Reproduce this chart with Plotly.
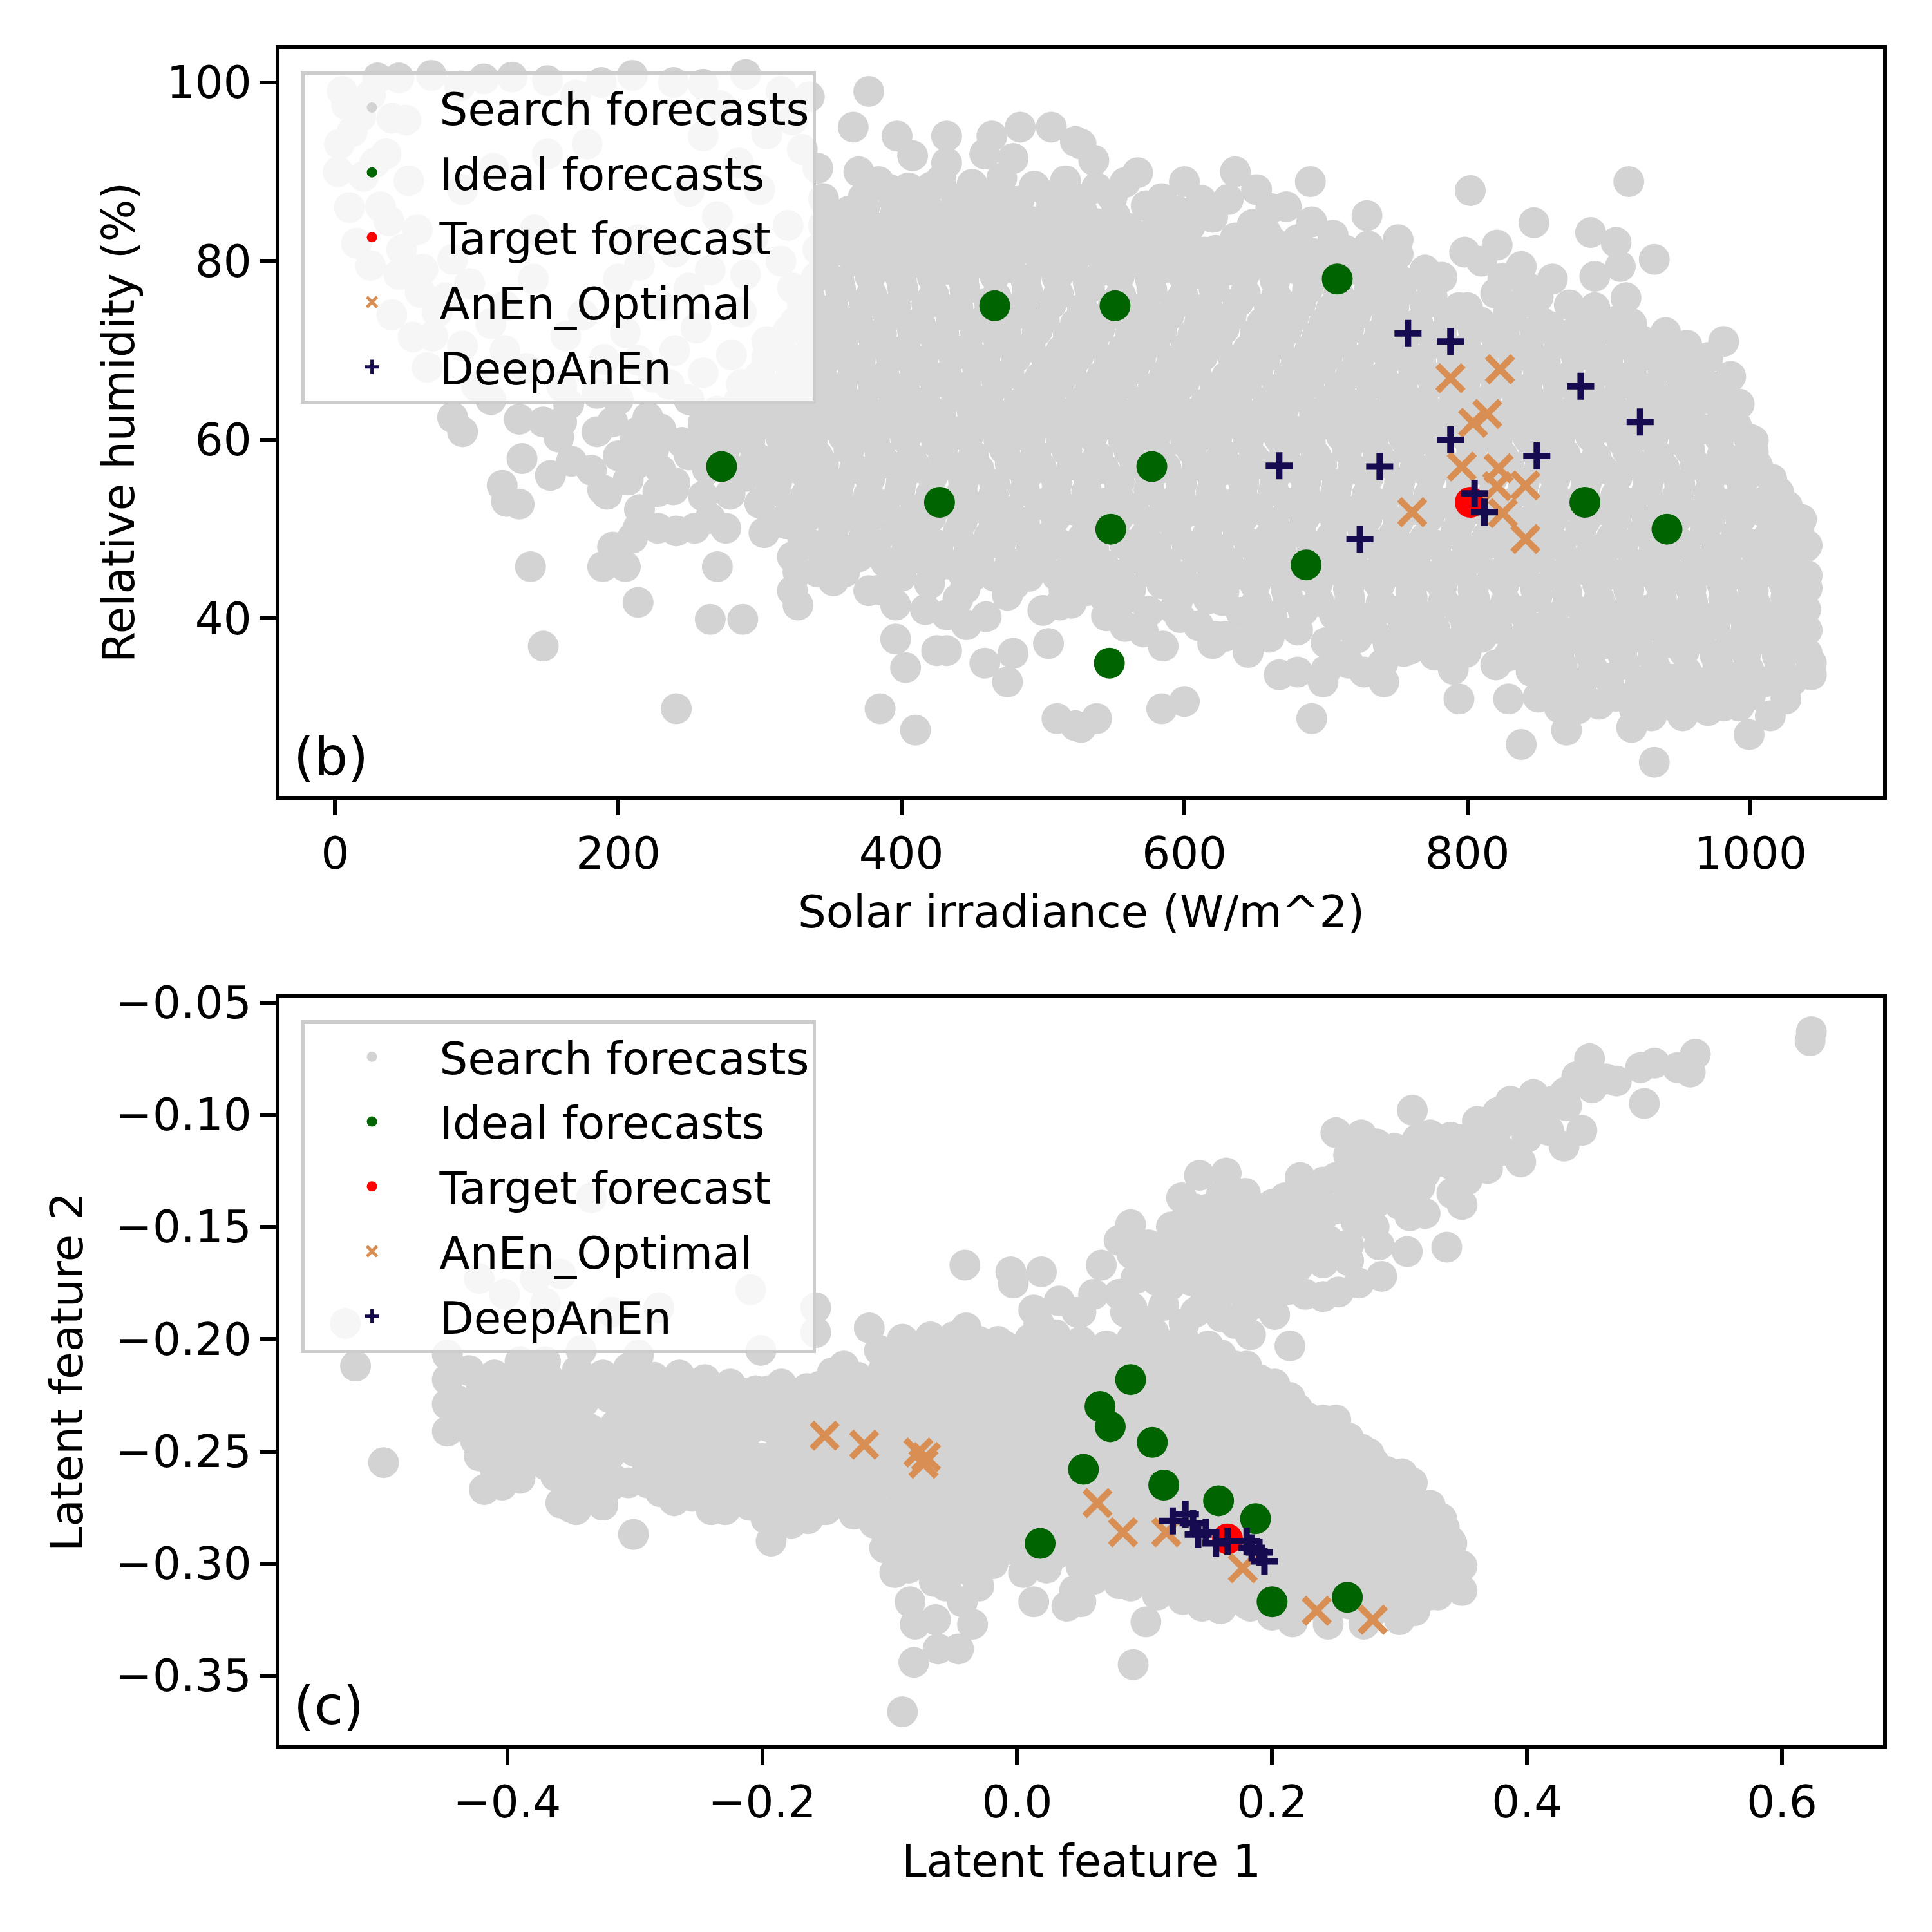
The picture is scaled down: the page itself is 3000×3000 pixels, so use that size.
import plotly.graph_objects as go

# ---- panel (b): solar irradiance vs relative humidity ----
search_b = [
    # upper left, mostly behind the legend
    (8, 97.5), (25, 98.6), (18, 96.2), (45, 100.5), (68, 100.8), (88, 99.6), (105, 100.4), (125, 100.6),
    (50, 95.8), (3, 93.1), (36, 92.0), (20, 89.5), (32, 86.1), (58, 83.5), (47, 81.3), (83, 80.2),
    (62, 79.1), (78, 75.9), (72, 74.3), (69, 71.6), (65, 68.1), (90, 88.0), (112, 90.4), (150, 92.0),
    (178, 93.1), (188, 100.0), (239, 100.0), (141, 83.5), (120, 70.0), (163, 71.6), (160, 62.0), (100, 66.0),
    (200, 78.0), (214, 68.9), (185, 65.2), (236, 66.2), (268, 63.0), (287, 66.2), (323, 66.2), (323, 77.0),
    (341, 90.4), (323, 95.8), (272, 97.4), (305, 94.2), (250, 87.8), (214, 82.4), (341, 81.3), (287, 74.3),
    (250, 77.0), (352, 71.6),
    (5, 99.0), (30, 100.5), (12, 94.5), (40, 96.0), (2, 90.0), (28, 91.0), (52, 89.0), (10, 86.0),
    (38, 84.5), (15, 82.0), (45, 78.5), (25, 79.5), (60, 76.5), (40, 74.0), (55, 71.5),
    (150, 100.2), (170, 98.6), (210, 100.8), (260, 99.8), (290, 100.9), (315, 99.0), (335, 98.4),
    (95, 77.5), (120, 75.0), (140, 78.0), (110, 73.0), (90, 70.5), (135, 68.0), (160, 66.0), (190, 69.0),
    (175, 74.0), (205, 72.0), (230, 75.0), (110, 64.5), (130, 62.3), (165, 64.0), (200, 64.5), (225, 67.0),
    (240, 70.0), (255, 72.5), (215, 79.5),
    (260, 94.0), (285, 91.0), (300, 88.0), (330, 92.5), (345, 87.0), (270, 85.0), (295, 82.5), (320, 84.0),
    (345, 84.0), (240, 81.0), (265, 79.0), (290, 78.5), (315, 80.0), (335, 74.5), (305, 71.0), (280, 69.5),
    (330, 69.0), (260, 67.5), (300, 64.0), (340, 63.5), (250, 64.5),
    # left edge below the legend
    (83, 62.5), (90, 60.9), (132, 57.9), (118, 54.9), (121, 53.1), (130, 52.8), (147, 62.0), (158, 60.3),
    (152, 56.0), (167, 57.6), (185, 60.9), (196, 62.0), (214, 60.9), (221, 62.5), (181, 56.6), (192, 53.9),
    (207, 55.5), (230, 56.6), (239, 54.4), (214, 50.1), (210, 49.0), (228, 50.1), (241, 49.8), (254, 50.1),
    (256, 58.7), (285, 60.9), (279, 53.9), (276, 50.1), (270, 45.8), (290, 56.6), (305, 57.6), (308, 54.4),
    (319, 50.6), (303, 49.6), (323, 57.6), (337, 55.5), (345, 47.9), (356, 52.8), (323, 46.9), (327, 45.2),
    (341, 45.2), (352, 44.2), (323, 43.1), (327, 41.5), (370, 46.9), (377, 43.1), (396, 41.5), (396, 37.7),
    (403, 34.5), (414, 50.1), (425, 47.4), (417, 41.0), (432, 40.4), (425, 36.4), (432, 36.4), (450, 44.7),
    (446, 39.3), (459, 35.0), (466, 44.7), (475, 42.6), (479, 36.1), (475, 32.9), (490, 44.7), (504, 37.2),
    (512, 41.5), (510, 28.8), (523, 28.0), (526, 44.7), (385, 29.9), (410, 27.5), (241, 29.9), (147, 36.9),
    (138, 45.8), (214, 41.8), (265, 39.9), (288, 39.9), (196, 48.0), (189, 45.8), (205, 45.8), (189, 54.4),
    # top of the cloud
    (377, 99.0), (366, 95.0), (397, 94.0), (432, 94.0), (464, 94.0), (484, 95.0), (506, 95.0), (459, 92.0),
    (479, 91.5), (523, 93.4), (408, 91.8), (432, 91.0), (370, 90.0), (392, 88.0), (421, 88.3), (450, 87.5),
    (476, 86.1), (512, 86.7), (363, 85.6), (403, 85.0), (432, 85.0), (381, 83.5), (410, 83.5), (446, 82.4),
    (490, 81.8), (508, 79.7), (464, 79.7), (432, 81.3), (374, 80.8), (403, 80.2),
    # right half edges
    (527, 93.1), (536, 91.3), (567, 89.9), (600, 88.9), (612, 86.8), (631, 86.9), (636, 90.0), (651, 88.0),
    (661, 85.9), (672, 86.1), (689, 88.9), (729, 85.1), (802, 87.9), (914, 88.9), (847, 84.3), (887, 83.2),
    (905, 82.1), (932, 80.2), (908, 79.4), (890, 78.3), (872, 75.1), (912, 75.9), (916, 73.0), (887, 71.1),
    (923, 71.1), (937, 68.9), (957, 68.0), (981, 71.0), (986, 67.1), (992, 64.0), (950, 64.0), (956, 60.1),
    (999, 60.1), (999, 58.7), (997, 56.0), (1010, 53.1), (1034, 50.1), (1039, 48.0), (1035, 43.9), (1039, 41.0),
    (1032, 38.8), (1043, 35.0), (1043, 33.7), (1025, 31.0), (1014, 29.1), (999, 27.0), (932, 23.9), (981, 30.2),
    (970, 29.7), (952, 29.1), (930, 29.1), (916, 27.8), (870, 27.5), (838, 25.9), (829, 31.0), (794, 31.0),
    (878, 29.9), (865, 32.1), (856, 35.0), (829, 35.8), (789, 35.8), (760, 36.6), (741, 32.9), (727, 34.0),
    (716, 35.0), (698, 32.9), (690, 28.8), (667, 33.7), (680, 34.0), (651, 39.9), (647, 38.0), (629, 38.0),
    (622, 38.0), (627, 42.0), (600, 30.7), (584, 29.9), (585, 36.9), (571, 38.5), (558, 39.1), (547, 41.0),
    (538, 28.8), (527, 27.8), (531, 43.1), (545, 42.0), (593, 41.0), (611, 78.6), (598, 78.6), (614, 81.0),
    (633, 80.2), (663, 82.1), (680, 80.2), (696, 80.2), (751, 82.4), (751, 80.8), (798, 81.0), (821, 81.8),
    (838, 79.4), (843, 77.0), (825, 78.1), (810, 80.0), (771, 78.1), (741, 77.5), (731, 77.0), (794, 74.8),
    (858, 72.7), (829, 74.3), (765, 68.9),
    # dense interior
    (384, 88.9), (405, 88.2), (428, 89.1), (450, 88.6), (471, 89.3), (494, 88.4), (516, 89.0), (538, 88.2), (558, 88.8),
    (373, 87.1), (395, 86.8), (417, 87.3), (439, 86.9), (461, 87.2), (483, 86.7), (505, 87.3), (527, 86.9),
    (549, 87.2), (584, 87.0),
    (352, 85.2), (374, 86.0), (396, 85.4), (418, 86.1), (440, 85.3), (462, 85.9), (484, 85.2), (506, 86.0),
    (528, 85.5), (551, 85.1), (573, 86.2), (595, 85.6), (620, 84.9),
    (362, 84.2), (384, 83.7), (406, 84.3), (428, 83.9), (450, 84.2), (472, 83.8), (494, 84.4), (516, 83.9),
    (538, 84.2), (560, 83.7), (582, 84.3), (604, 83.9), (648, 84.1), (690, 84.4),
    (350, 82.1), (371, 82.9), (393, 82.3), (415, 82.8), (437, 82.0), (459, 82.7), (481, 82.2), (503, 82.9),
    (525, 82.4), (547, 82.0), (569, 82.8), (591, 82.3), (636, 82.6), (658, 83.1), (680, 82.4), (705, 82.9), (730, 81.7),
    (358, 81.2), (380, 80.7), (402, 81.3), (424, 80.9), (446, 81.2), (468, 80.8), (490, 81.4), (512, 80.9),
    (534, 81.2), (556, 80.7), (578, 81.3), (600, 80.9), (622, 81.2), (644, 80.8), (666, 81.3), (690, 80.9),
    (714, 81.2), (738, 80.6),
    (345, 79.2), (367, 80.0), (389, 79.4), (411, 79.9), (433, 79.1), (455, 79.8), (477, 79.3), (499, 80.0),
    (521, 79.5), (543, 79.0), (565, 79.9), (587, 79.3), (609, 80.1), (631, 79.0), (653, 79.6), (676, 79.2),
    (698, 79.9), (720, 79.1), (745, 79.7), (770, 79.0),
    (340, 78.2), (356, 77.7), (378, 78.3), (400, 77.9), (422, 78.2), (444, 77.8), (466, 78.4), (488, 77.9),
    (510, 78.2), (532, 77.7), (554, 78.3), (576, 77.9), (620, 77.8), (642, 78.4), (664, 77.9), (686, 78.2),
    (708, 77.7), (730, 78.3), (752, 77.9), (782, 78.2), (860, 78.0),
    (335, 76.1), (357, 76.9), (379, 76.3), (401, 77.0), (423, 76.2), (445, 76.8), (467, 76.0), (489, 76.7),
    (511, 76.3), (533, 77.0), (555, 76.2), (577, 76.8), (599, 76.1), (621, 76.9), (643, 76.4), (665, 76.0),
    (687, 76.8), (709, 76.3), (731, 75.8), (753, 76.6), (775, 76.1), (820, 76.4), (850, 76.0),
    (330, 75.2), (352, 74.7), (374, 75.3), (396, 74.9), (418, 75.2), (440, 74.8), (462, 75.4), (484, 74.9),
    (506, 75.2), (528, 74.7), (550, 75.3), (572, 74.9), (594, 75.2), (616, 74.8), (638, 75.4), (660, 74.9),
    (682, 75.2), (704, 74.7), (726, 75.3), (748, 74.9), (770, 75.2), (800, 74.8), (838, 75.3), (890, 74.8),
    (325, 73.2), (347, 73.9), (369, 73.3), (391, 73.8), (413, 73.1), (435, 73.7), (457, 73.2), (479, 73.9),
    (501, 73.4), (523, 73.0), (545, 73.8), (567, 73.2), (589, 73.9), (611, 73.3), (633, 73.8), (655, 73.1),
    (677, 73.7), (699, 73.2), (721, 73.9), (743, 73.4), (765, 73.0), (787, 73.8), (809, 73.2), (831, 73.6),
    (853, 73.1), (880, 73.9), (905, 73.3),
    (320, 72.2), (342, 71.7), (364, 72.3), (386, 71.9), (408, 72.2), (430, 71.8), (452, 72.4), (474, 71.9),
    (496, 72.2), (518, 71.7), (540, 72.3), (562, 71.9), (584, 72.2), (606, 71.8), (628, 72.4), (650, 71.9),
    (672, 72.2), (694, 71.7), (716, 72.3), (738, 71.9), (760, 72.2), (782, 71.8), (804, 72.4), (826, 71.9),
    (848, 72.2), (870, 71.7), (895, 72.3), (940, 72.0),
    (315, 70.2), (337, 70.9), (359, 70.3), (381, 70.8), (403, 70.1), (425, 70.7), (447, 70.2), (469, 70.9),
    (491, 70.4), (513, 70.0), (535, 70.8), (557, 70.2), (579, 70.9), (601, 70.3), (623, 70.8), (645, 70.1),
    (667, 70.7), (689, 70.2), (711, 70.9), (733, 70.4), (755, 70.0), (777, 70.8), (799, 70.2), (821, 70.9),
    (843, 70.3), (865, 70.8), (887, 70.1), (909, 70.7), (931, 70.2), (955, 70.6),
    (305, 69.2), (327, 68.7), (349, 69.3), (371, 68.9), (393, 69.2), (415, 68.8), (437, 69.4), (459, 68.9),
    (481, 69.2), (503, 68.7), (525, 69.3), (547, 68.9), (569, 69.2), (591, 68.8), (613, 69.4), (635, 68.9),
    (657, 69.2), (679, 68.7), (701, 69.3), (723, 68.9), (745, 69.2), (767, 68.8), (789, 69.4), (811, 68.9),
    (833, 69.2), (855, 68.7), (877, 69.3), (899, 68.9), (921, 69.2), (945, 68.8), (970, 69.2),
    (300, 67.2), (322, 67.9), (344, 67.3), (366, 67.8), (388, 67.1), (410, 67.7), (432, 67.2), (454, 67.9),
    (476, 67.4), (498, 67.0), (520, 67.8), (542, 67.2), (564, 67.9), (586, 67.3), (608, 67.8), (630, 67.1),
    (652, 67.7), (674, 67.2), (696, 67.9), (718, 67.4), (740, 67.0), (762, 67.8), (784, 67.2), (806, 67.9),
    (828, 67.3), (850, 67.8), (872, 67.1), (894, 67.7), (916, 67.2), (938, 67.9), (962, 67.4),
    (292, 66.2), (314, 65.7), (336, 66.3), (358, 65.9), (380, 66.2), (402, 65.8), (424, 66.4), (446, 65.9),
    (468, 66.2), (490, 65.7), (512, 66.3), (534, 65.9), (556, 66.2), (578, 65.8), (600, 66.4), (622, 65.9),
    (644, 66.2), (666, 65.7), (688, 66.3), (710, 65.9), (732, 66.2), (754, 65.8), (776, 66.4), (798, 65.9),
    (820, 66.2), (842, 65.7), (864, 66.3), (886, 65.9), (908, 66.2), (930, 65.8), (952, 66.4), (975, 65.9),
    (285, 64.2), (307, 64.9), (329, 64.3), (351, 64.8), (373, 64.1), (395, 64.7), (417, 64.2), (439, 64.9),
    (461, 64.4), (483, 64.0), (505, 64.8), (527, 64.2), (549, 64.9), (571, 64.3), (593, 64.8), (615, 64.1),
    (637, 64.7), (659, 64.2), (681, 64.9), (703, 64.4), (725, 64.0), (747, 64.8), (769, 64.2), (791, 64.9),
    (813, 64.3), (835, 64.8), (857, 64.1), (879, 64.7), (901, 64.2), (923, 64.9), (945, 64.4), (968, 64.6),
    (270, 63.2), (296, 62.7), (318, 63.3), (340, 62.9), (362, 63.2), (384, 62.8), (406, 63.4), (428, 62.9),
    (450, 63.2), (472, 62.7), (494, 63.3), (516, 62.9), (538, 63.2), (560, 62.8), (582, 63.4), (604, 62.9),
    (626, 63.2), (648, 62.7), (670, 63.3), (692, 62.9), (714, 63.2), (736, 62.8), (758, 63.4), (780, 62.9),
    (802, 63.2), (824, 62.7), (846, 63.3), (868, 62.9), (890, 63.2), (912, 62.8), (934, 63.4), (956, 62.9),
    (980, 63.2),
    (230, 61.2), (260, 61.9), (282, 61.3), (304, 61.8), (326, 61.1), (348, 61.7), (370, 61.2), (392, 61.9),
    (414, 61.4), (436, 61.0), (458, 61.8), (480, 61.2), (502, 61.9), (524, 61.3), (546, 61.8), (568, 61.1),
    (590, 61.7), (612, 61.2), (634, 61.9), (656, 61.4), (678, 61.0), (700, 61.8), (722, 61.2), (744, 61.9),
    (766, 61.3), (788, 61.8), (810, 61.1), (832, 61.7), (854, 61.2), (876, 61.9), (898, 61.4), (920, 61.0),
    (942, 61.8), (965, 61.2), (990, 61.6),
    (212, 60.2), (245, 59.7), (271, 60.3), (293, 59.9), (315, 60.2), (337, 59.8), (359, 60.4), (381, 59.9),
    (403, 60.2), (425, 59.7), (447, 60.3), (469, 59.9), (491, 60.2), (513, 59.8), (535, 60.4), (557, 59.9),
    (579, 60.2), (601, 59.7), (623, 60.3), (645, 59.9), (667, 60.2), (689, 59.8), (711, 60.4), (733, 59.9),
    (755, 60.2), (777, 59.7), (799, 60.3), (821, 59.9), (843, 60.2), (865, 59.8), (887, 60.4), (909, 59.9),
    (931, 60.2), (953, 59.7), (978, 60.3), (1002, 59.9),
    (200, 58.2), (225, 58.9), (250, 58.3), (275, 58.8), (297, 58.1), (319, 58.7), (341, 58.2), (363, 58.9),
    (385, 58.4), (407, 58.0), (429, 58.8), (451, 58.2), (473, 58.9), (495, 58.3), (517, 58.8), (539, 58.1),
    (561, 58.7), (583, 58.2), (605, 58.9), (627, 58.4), (649, 58.0), (671, 58.8), (693, 58.2), (715, 58.9),
    (737, 58.3), (759, 58.8), (781, 58.1), (803, 58.7), (825, 58.2), (847, 58.9), (869, 58.4), (891, 58.0),
    (913, 58.8), (935, 58.2), (957, 58.9), (980, 58.3), (1002, 58.6),
    (212, 57.2), (263, 56.7), (301, 57.3), (323, 56.9), (345, 57.2), (367, 56.8), (389, 57.4), (411, 56.9),
    (433, 57.2), (455, 56.7), (477, 57.3), (499, 56.9), (521, 57.2), (543, 56.8), (565, 57.4), (587, 56.9),
    (609, 57.2), (631, 56.7), (653, 57.3), (675, 56.9), (697, 57.2), (719, 56.8), (741, 57.4), (763, 56.9),
    (785, 57.2), (807, 56.7), (829, 57.3), (851, 56.9), (873, 57.2), (895, 56.8), (917, 57.4), (939, 56.9),
    (961, 57.2), (983, 56.7), (1005, 57.1),
    (240, 55.2), (290, 55.9), (312, 55.3), (334, 55.8), (356, 55.1), (378, 55.7), (400, 55.2), (422, 55.9),
    (444, 55.4), (466, 55.0), (488, 55.8), (510, 55.2), (532, 55.9), (554, 55.3), (576, 55.8), (598, 55.1),
    (620, 55.7), (642, 55.2), (664, 55.9), (686, 55.4), (708, 55.0), (730, 55.8), (752, 55.2), (774, 55.9),
    (796, 55.3), (818, 55.8), (840, 55.1), (862, 55.7), (884, 55.2), (906, 55.9), (928, 55.4), (950, 55.0),
    (972, 55.8), (994, 55.2), (1015, 55.6),
    (228, 54.2), (260, 53.7), (311, 54.3), (333, 53.9), (355, 54.2), (377, 53.8), (399, 54.4), (421, 53.9),
    (443, 54.2), (465, 53.7), (487, 54.3), (509, 53.9), (531, 54.2), (553, 53.8), (575, 54.4), (597, 53.9),
    (619, 54.2), (641, 53.7), (663, 54.3), (685, 53.9), (707, 54.2), (729, 53.8), (751, 54.4), (773, 53.9),
    (795, 54.2), (817, 53.7), (839, 54.3), (861, 53.9), (883, 54.2), (905, 53.8), (927, 54.4), (949, 53.9),
    (971, 54.2), (993, 53.7), (1020, 54.1),
    (215, 52.2), (300, 52.9), (322, 52.3), (344, 52.8), (366, 52.1), (388, 52.7), (410, 52.2), (432, 52.9),
    (454, 52.4), (476, 52.0), (498, 52.8), (520, 52.2), (542, 52.9), (564, 52.3), (586, 52.8), (608, 52.1),
    (630, 52.7), (652, 52.2), (674, 52.9), (696, 52.4), (718, 52.0), (740, 52.8), (762, 52.2), (784, 52.9),
    (806, 52.3), (828, 52.8), (850, 52.1), (872, 52.7), (894, 52.2), (916, 52.9), (938, 52.4), (960, 52.0),
    (982, 52.8), (1004, 52.2), (1026, 52.6),
    (265, 51.2), (311, 50.7), (333, 51.3), (355, 50.9), (377, 51.2), (399, 50.8), (421, 51.4), (443, 50.9),
    (465, 51.2), (487, 50.7), (509, 51.3), (531, 50.9), (553, 51.2), (575, 50.8), (597, 51.4), (619, 50.9),
    (641, 51.2), (663, 50.7), (685, 51.3), (707, 50.9), (729, 51.2), (751, 50.8), (773, 51.4), (795, 50.9),
    (817, 51.2), (839, 50.7), (861, 51.3), (883, 50.9), (905, 51.2), (927, 50.8), (949, 51.4), (971, 50.9),
    (993, 51.2), (1015, 50.7), (1036, 51.1),
    (330, 49.2), (352, 49.9), (374, 49.3), (396, 49.8), (418, 49.1), (440, 49.7), (462, 49.2), (484, 49.9),
    (506, 49.4), (528, 49.0), (550, 49.8), (572, 49.2), (594, 49.9), (616, 49.3), (638, 49.8), (660, 49.1),
    (682, 49.7), (704, 49.2), (726, 49.9), (748, 49.4), (770, 49.0), (792, 49.8), (814, 49.2), (836, 49.9),
    (858, 49.3), (880, 49.8), (902, 49.1), (924, 49.7), (946, 49.2), (968, 49.9), (990, 49.4), (1012, 49.0),
    (1034, 49.6),
    (338, 48.2), (360, 47.7), (382, 48.3), (404, 47.9), (426, 48.2), (448, 47.8), (470, 48.4), (492, 47.9),
    (514, 48.2), (536, 47.7), (558, 48.3), (580, 47.9), (602, 48.2), (624, 47.8), (646, 48.4), (668, 47.9),
    (690, 48.2), (712, 47.7), (734, 48.3), (756, 47.9), (778, 48.2), (800, 47.8), (822, 48.4), (844, 47.9),
    (866, 48.2), (888, 47.7), (910, 48.3), (932, 47.9), (954, 48.2), (976, 47.8), (998, 48.4), (1020, 47.9),
    (1040, 48.2),
    (345, 46.2), (367, 46.9), (389, 46.3), (411, 46.8), (433, 46.1), (455, 46.7), (477, 46.2), (499, 46.9),
    (521, 46.4), (543, 46.0), (565, 46.8), (587, 46.2), (609, 46.9), (631, 46.3), (653, 46.8), (675, 46.1),
    (697, 46.7), (719, 46.2), (741, 46.9), (763, 46.4), (785, 46.0), (807, 46.8), (829, 46.2), (851, 46.9),
    (873, 46.3), (895, 46.8), (917, 46.1), (939, 46.7), (961, 46.2), (983, 46.9), (1005, 46.4), (1027, 46.6),
    (360, 45.2), (400, 44.7), (422, 45.3), (444, 44.9), (488, 45.2), (510, 44.8), (532, 45.4), (554, 44.9),
    (576, 45.2), (598, 44.7), (620, 45.3), (642, 44.9), (664, 45.2), (686, 44.8), (708, 45.4), (730, 44.9),
    (752, 45.2), (774, 44.7), (796, 45.3), (818, 44.9), (840, 45.2), (862, 44.8), (884, 45.4), (906, 44.9),
    (928, 45.2), (950, 44.7), (972, 45.3), (994, 44.9), (1016, 45.2), (1040, 44.8),
    (385, 43.2), (420, 43.9), (445, 43.3), (480, 43.8), (515, 43.1), (540, 43.7), (562, 43.2), (584, 43.9),
    (606, 43.4), (628, 43.0), (650, 43.8), (672, 43.2), (694, 43.9), (716, 43.3), (738, 43.8), (760, 43.1),
    (782, 43.7), (804, 43.2), (826, 43.9), (848, 43.4), (870, 43.0), (892, 43.8), (914, 43.2), (936, 43.9),
    (958, 43.3), (980, 43.8), (1002, 43.1), (1024, 43.7), (1040, 43.4),
    (440, 42.2), (520, 41.7), (560, 42.3), (595, 41.9), (617, 42.2), (651, 41.8), (673, 42.4), (695, 41.9),
    (717, 42.2), (739, 41.7), (761, 42.3), (783, 41.9), (805, 42.2), (827, 41.8), (849, 42.4), (871, 41.9),
    (893, 42.2), (915, 41.7), (937, 42.3), (959, 41.9), (981, 42.2), (1003, 41.8), (1025, 42.3),
    (460, 40.2), (500, 40.9), (545, 40.3), (575, 40.8), (597, 40.1), (640, 40.7), (662, 40.2), (684, 40.9),
    (706, 40.4), (728, 40.0), (750, 40.8), (772, 40.2), (794, 40.9), (816, 40.3), (838, 40.8), (860, 40.1),
    (882, 40.7), (904, 40.2), (926, 40.9), (948, 40.4), (970, 40.0), (992, 40.8), (1014, 40.2), (1036, 40.6),
    (610, 39.2), (680, 38.7), (711, 39.3), (733, 38.9), (755, 39.2), (777, 38.8), (799, 39.4), (821, 38.9),
    (843, 39.2), (865, 38.7), (887, 39.3), (909, 38.9), (931, 39.2), (953, 38.8), (975, 39.4), (997, 38.9),
    (1019, 39.2), (1040, 38.7),
    (620, 37.2), (660, 37.9), (700, 37.3), (722, 37.8), (744, 37.1), (766, 37.7), (788, 37.2), (810, 37.9),
    (832, 37.4), (854, 37.0), (876, 37.8), (898, 37.2), (920, 37.9), (942, 37.3), (964, 37.8), (986, 37.1),
    (1008, 37.7), (1030, 37.2),
    (645, 36.2), (711, 35.7), (755, 36.3), (777, 35.9), (799, 36.2), (843, 35.8), (865, 36.4), (887, 35.9),
    (909, 36.2), (931, 35.7), (953, 36.3), (975, 35.9), (997, 36.2), (1019, 35.8), (1040, 36.1),
    (700, 34.2), (740, 34.9), (790, 34.3), (820, 34.8), (845, 34.1), (867, 34.7), (889, 34.2), (911, 34.9),
    (933, 34.4), (955, 34.0), (977, 34.8), (999, 34.2), (1021, 34.6),
    (860, 33.2), (880, 32.7), (900, 33.3), (922, 32.9), (944, 33.2), (966, 32.8), (988, 33.4), (1010, 32.9),
    (1030, 33.1),
    (850, 31.2), (880, 31.9), (905, 31.3), (930, 31.8), (955, 31.1), (980, 31.7), (1000, 31.4),
    (865, 30.0), (893, 30.4), (918, 29.8), (943, 30.3), (968, 29.9), (992, 30.2),
]
ideal_b_x = [273, 427, 466, 551, 577, 548, 547, 708, 686, 883, 941]
ideal_b_y = [57, 53, 75, 75, 57, 50, 35, 78, 46, 53, 50]
target_b_x = [802]
target_b_y = [53]
anen_b_x = [788, 823, 814, 804, 796, 822, 841, 821, 825, 761, 841]
anen_b_y = [66.9, 67.9, 62.9, 61.9, 57.0, 56.8, 54.9, 54.8, 51.8, 51.9, 48.9]
deep_b_x = [758, 788, 880, 922, 788, 849, 738, 805, 812, 724, 667]
deep_b_y = [71.9, 71.0, 66.0, 62.0, 60.0, 58.2, 57.0, 54.0, 51.9, 48.9, 57.1]

# ---- panel (c): latent features ----
search_c = [
    # left arm edges
    (-0.519, -0.212), (-0.497, -0.255), (-0.447, -0.218), (-0.447, -0.229), (-0.447, -0.241), (-0.424, -0.235),
    (-0.422, -0.252), (-0.418, -0.267), (-0.404, -0.265), (-0.402, -0.259), (-0.386, -0.243), (-0.402, -0.230),
    (-0.386, -0.222), (-0.410, -0.218), (-0.370, -0.210), (-0.346, -0.220), (-0.362, -0.235), (-0.358, -0.252),
    (-0.362, -0.261), (-0.358, -0.273), (-0.346, -0.276), (-0.338, -0.261), (-0.318, -0.265), (-0.305, -0.264),
    (-0.322, -0.244), (-0.338, -0.240), (-0.301, -0.287), (-0.306, -0.229), (-0.289, -0.222), (-0.273, -0.231),
    (-0.261, -0.240), (-0.285, -0.252), (-0.265, -0.248), (-0.269, -0.272), (-0.249, -0.261), (-0.237, -0.267),
    (-0.229, -0.276), (-0.233, -0.252), (-0.245, -0.218), (-0.229, -0.225), (-0.209, -0.240), (-0.209, -0.252),
    (-0.197, -0.261), (-0.197, -0.280), (-0.193, -0.290), (-0.177, -0.282), (-0.164, -0.280), (-0.152, -0.276),
    (-0.177, -0.272), (-0.177, -0.225), (-0.185, -0.229), (-0.160, -0.233), (-0.136, -0.212), (-0.136, -0.220),
    (-0.116, -0.195), (-0.108, -0.205), (-0.100, -0.212), (-0.128, -0.278), (-0.112, -0.282), (-0.104, -0.293),
    # behind the legend
    (-0.422, -0.173), (-0.402, -0.180), (-0.378, -0.173), (-0.358, -0.171), (-0.334, -0.137), (-0.370, -0.184),
    (-0.318, -0.188), (-0.281, -0.186), (-0.209, -0.178), (-0.158, -0.186), (-0.158, -0.197), (-0.201, -0.205),
    (-0.527, -0.193), (-0.447, -0.207), (-0.342, -0.205), (-0.390, -0.210), (-0.297, -0.207),
    # middle top and lower lobe
    (-0.088, -0.201), (-0.068, -0.199), (-0.040, -0.195), (-0.015, -0.201), (-0.041, -0.167), (-0.005, -0.170),
    (-0.003, -0.175), (0.019, -0.170), (0.013, -0.187), (0.017, -0.193), (0.033, -0.183), (0.047, -0.188),
    (0.000, -0.205), (0.025, -0.205), (-0.096, -0.304), (-0.084, -0.317), (-0.080, -0.327), (-0.081, -0.344),
    (-0.090, -0.366), (-0.062, -0.338), (-0.046, -0.338), (-0.035, -0.327), (-0.043, -0.317), (-0.064, -0.325),
    (-0.056, -0.310), (-0.076, -0.300), (-0.035, -0.304), (-0.019, -0.300), (-0.011, -0.293), (0.005, -0.304),
    (0.023, -0.302), (0.013, -0.317), (0.039, -0.319), (0.045, -0.312), (0.000, -0.289),
    # upper arm
    (0.623, -0.063), (0.622, -0.067), (0.532, -0.073), (0.528, -0.081), (0.518, -0.079), (0.489, -0.079),
    (0.492, -0.095), (0.449, -0.075), (0.439, -0.083), (0.451, -0.088), (0.462, -0.084), (0.431, -0.096),
    (0.443, -0.107), (0.417, -0.107), (0.429, -0.114), (0.405, -0.091), (0.411, -0.098), (0.387, -0.094),
    (0.377, -0.099), (0.361, -0.103), (0.385, -0.101), (0.395, -0.121), (0.373, -0.112), (0.357, -0.120),
    (0.369, -0.124), (0.353, -0.129), (0.341, -0.135), (0.349, -0.140), (0.337, -0.159), (0.347, -0.111),
    (0.329, -0.121), (0.324, -0.109), (0.310, -0.098), (0.314, -0.111), (0.296, -0.115), (0.282, -0.113),
    (0.270, -0.109), (0.250, -0.108), (0.260, -0.118), (0.266, -0.124), (0.284, -0.124), (0.300, -0.128),
    (0.316, -0.132), (0.320, -0.144), (0.308, -0.145), (0.282, -0.139), (0.292, -0.136), (0.274, -0.145),
    (0.222, -0.128), (0.220, -0.143), (0.240, -0.142), (0.266, -0.148), (0.306, -0.161), (0.286, -0.172),
    (0.268, -0.175), (0.252, -0.179), (0.240, -0.181), (0.226, -0.180), (0.212, -0.178), (0.200, -0.173),
    (0.204, -0.160), (0.224, -0.157), (0.244, -0.156), (0.260, -0.158), (0.284, -0.158), (0.202, -0.189),
    (0.214, -0.203), (0.183, -0.198), (0.171, -0.193), (0.191, -0.184), (0.183, -0.178), (0.167, -0.168),
    (0.163, -0.158), (0.181, -0.152), (0.195, -0.150), (0.179, -0.135), (0.183, -0.140), (0.164, -0.126),
    (0.143, -0.127), (0.129, -0.137), (0.155, -0.141), (0.151, -0.150), (0.121, -0.150), (0.089, -0.149),
    (0.083, -0.156), (0.103, -0.158), (0.121, -0.166), (0.139, -0.163), (0.066, -0.167), (0.093, -0.173),
    (0.137, -0.174), (0.159, -0.180), (0.147, -0.184), (0.060, -0.180), (0.085, -0.188), (0.115, -0.185),
    (0.131, -0.193), (0.107, -0.197), (0.050, -0.188),
    (0.080, -0.156), (0.100, -0.168), (0.080, -0.180), (0.100, -0.192), (0.120, -0.160), (0.120, -0.176),
    (0.140, -0.142), (0.140, -0.154), (0.140, -0.166), (0.140, -0.188), (0.160, -0.136), (0.160, -0.148),
    (0.160, -0.160), (0.160, -0.172), (0.160, -0.190), (0.180, -0.145), (0.180, -0.157), (0.180, -0.169),
    (0.180, -0.186), (0.200, -0.140), (0.200, -0.152), (0.200, -0.164), (0.220, -0.135), (0.220, -0.147),
    (0.220, -0.168), (0.240, -0.130), (0.240, -0.145), (0.240, -0.166), (0.260, -0.125), (0.260, -0.137),
    (0.260, -0.165), (0.280, -0.120), (0.280, -0.131), (0.280, -0.150), (0.300, -0.118), (0.300, -0.140),
    (0.320, -0.115), (0.320, -0.126), (0.340, -0.110), (0.340, -0.122), (0.360, -0.110), (0.380, -0.104),
    (0.380, -0.116), (0.400, -0.098), (0.400, -0.110), (0.420, -0.094),
    (0.090, -0.162), (0.110, -0.174), (0.090, -0.186), (0.130, -0.148), (0.130, -0.172), (0.150, -0.142),
    (0.150, -0.154), (0.150, -0.166), (0.150, -0.178), (0.170, -0.140), (0.170, -0.152), (0.170, -0.164),
    (0.170, -0.176), (0.190, -0.146), (0.190, -0.158), (0.190, -0.170), (0.210, -0.137), (0.210, -0.149),
    (0.210, -0.161), (0.230, -0.132), (0.230, -0.152), (0.250, -0.128), (0.250, -0.142), (0.270, -0.122),
    (0.270, -0.134), (0.290, -0.120), (0.290, -0.128), (0.310, -0.121), (0.330, -0.116), (0.350, -0.112),
    (0.370, -0.108), (0.390, -0.100), (0.410, -0.103), (0.430, -0.090), (0.470, -0.085), (0.500, -0.077),
    # lower blob edges
    (0.171, -0.212), (0.187, -0.218), (0.202, -0.220), (0.214, -0.226), (0.228, -0.235), (0.250, -0.236),
    (0.260, -0.244), (0.276, -0.251), (0.290, -0.259), (0.302, -0.260), (0.310, -0.264), (0.324, -0.274),
    (0.333, -0.280), (0.341, -0.291), (0.349, -0.301), (0.349, -0.312), (0.324, -0.314), (0.312, -0.321),
    (0.300, -0.325), (0.272, -0.327), (0.244, -0.327), (0.216, -0.326), (0.200, -0.323), (0.183, -0.319),
    (0.159, -0.320), (0.145, -0.319), (0.123, -0.312), (0.101, -0.326), (0.091, -0.345), (0.089, -0.310),
    (0.071, -0.303), (0.050, -0.317),
    # left arm interior
    (-0.430, -0.214), (-0.410, -0.216), (-0.390, -0.213), (-0.368, -0.217), (-0.345, -0.214), (-0.325, -0.216),
    (-0.305, -0.213), (-0.285, -0.217), (-0.265, -0.216), (-0.245, -0.222), (-0.225, -0.220), (-0.205, -0.223),
    (-0.185, -0.220), (-0.165, -0.222), (-0.145, -0.215), (-0.125, -0.217), (-0.105, -0.214),
    (-0.420, -0.221), (-0.400, -0.222), (-0.380, -0.220), (-0.355, -0.222), (-0.335, -0.221), (-0.315, -0.220),
    (-0.295, -0.222), (-0.275, -0.221), (-0.255, -0.223), (-0.215, -0.224), (-0.195, -0.223), (-0.175, -0.224),
    (-0.155, -0.221), (-0.135, -0.222), (-0.115, -0.221),
    (-0.440, -0.227), (-0.420, -0.228), (-0.400, -0.226), (-0.380, -0.229), (-0.360, -0.226), (-0.340, -0.228),
    (-0.320, -0.226), (-0.300, -0.229), (-0.280, -0.227), (-0.260, -0.228), (-0.240, -0.226), (-0.220, -0.229),
    (-0.200, -0.227), (-0.180, -0.228), (-0.160, -0.226), (-0.140, -0.229), (-0.120, -0.227),
    (-0.430, -0.233), (-0.410, -0.234), (-0.390, -0.232), (-0.370, -0.235), (-0.350, -0.233), (-0.310, -0.232),
    (-0.290, -0.235), (-0.270, -0.233), (-0.250, -0.234), (-0.230, -0.232), (-0.210, -0.235), (-0.190, -0.233),
    (-0.170, -0.234), (-0.150, -0.232), (-0.130, -0.235), (-0.110, -0.233),
    (-0.435, -0.239), (-0.415, -0.240), (-0.395, -0.238), (-0.375, -0.241), (-0.355, -0.239), (-0.335, -0.240),
    (-0.315, -0.238), (-0.295, -0.241), (-0.275, -0.239), (-0.255, -0.240), (-0.235, -0.238), (-0.215, -0.241),
    (-0.195, -0.239), (-0.175, -0.240), (-0.155, -0.238), (-0.135, -0.241), (-0.115, -0.239),
    (-0.425, -0.245), (-0.405, -0.246), (-0.385, -0.244), (-0.365, -0.247), (-0.345, -0.245), (-0.325, -0.246),
    (-0.305, -0.244), (-0.285, -0.247), (-0.265, -0.245), (-0.245, -0.246), (-0.225, -0.244), (-0.185, -0.245),
    (-0.165, -0.246), (-0.145, -0.244), (-0.125, -0.247), (-0.105, -0.245),
    (-0.420, -0.251), (-0.400, -0.252), (-0.380, -0.250), (-0.360, -0.253), (-0.340, -0.251), (-0.320, -0.252),
    (-0.300, -0.250), (-0.280, -0.253), (-0.260, -0.251), (-0.240, -0.252), (-0.220, -0.250), (-0.200, -0.253),
    (-0.180, -0.251), (-0.160, -0.252), (-0.140, -0.250), (-0.120, -0.253), (-0.100, -0.251),
    (-0.410, -0.257), (-0.390, -0.258), (-0.370, -0.256), (-0.350, -0.259), (-0.330, -0.257), (-0.290, -0.256),
    (-0.270, -0.259), (-0.250, -0.257), (-0.230, -0.258), (-0.210, -0.256), (-0.190, -0.259), (-0.170, -0.257),
    (-0.150, -0.258), (-0.130, -0.256), (-0.110, -0.259),
    (-0.410, -0.263), (-0.390, -0.262), (-0.355, -0.264), (-0.335, -0.262), (-0.315, -0.263), (-0.290, -0.264),
    (-0.265, -0.262), (-0.245, -0.263), (-0.225, -0.264), (-0.205, -0.262), (-0.185, -0.263), (-0.165, -0.264),
    (-0.145, -0.262), (-0.125, -0.263), (-0.105, -0.264),
    (-0.345, -0.269), (-0.325, -0.270), (-0.280, -0.268), (-0.255, -0.270), (-0.235, -0.269), (-0.215, -0.268),
    (-0.195, -0.270), (-0.175, -0.269), (-0.155, -0.268), (-0.135, -0.270), (-0.115, -0.269),
    (-0.350, -0.275), (-0.325, -0.274), (-0.240, -0.276), (-0.210, -0.274), (-0.190, -0.276), (-0.170, -0.274),
    (-0.150, -0.276), (-0.130, -0.274), (-0.110, -0.276),
    # central blob interior
    (-0.090, -0.200), (-0.070, -0.202), (-0.050, -0.199), (-0.030, -0.201), (-0.010, -0.203), (0.010, -0.200),
    (0.030, -0.198), (0.050, -0.201), (0.070, -0.203), (0.090, -0.200), (0.110, -0.202), (0.130, -0.199),
    (0.150, -0.203),
    (-0.080, -0.206), (-0.060, -0.208), (-0.040, -0.205), (-0.020, -0.207), (0.000, -0.209), (0.020, -0.206),
    (0.040, -0.204), (0.060, -0.207), (0.080, -0.209), (0.100, -0.206), (0.120, -0.208), (0.140, -0.205),
    (0.160, -0.207),
    (-0.100, -0.212), (-0.080, -0.214), (-0.060, -0.211), (-0.040, -0.213), (-0.020, -0.210), (0.000, -0.214),
    (0.020, -0.212), (0.040, -0.211), (0.060, -0.214), (0.080, -0.212), (0.100, -0.210), (0.120, -0.213),
    (0.140, -0.211), (0.160, -0.214), (0.180, -0.212),
    (-0.090, -0.218), (-0.070, -0.220), (-0.050, -0.217), (-0.030, -0.219), (-0.010, -0.216), (0.010, -0.220),
    (0.030, -0.218), (0.050, -0.217), (0.070, -0.220), (0.090, -0.218), (0.110, -0.216), (0.130, -0.219),
    (0.150, -0.217), (0.170, -0.220), (0.190, -0.218),
    (-0.110, -0.224), (-0.090, -0.226), (-0.070, -0.223), (-0.050, -0.225), (-0.030, -0.222), (-0.010, -0.226),
    (0.010, -0.224), (0.030, -0.223), (0.050, -0.226), (0.070, -0.224), (0.090, -0.222), (0.110, -0.225),
    (0.130, -0.223), (0.150, -0.226), (0.170, -0.224), (0.190, -0.223), (0.210, -0.226),
    (-0.100, -0.230), (-0.080, -0.232), (-0.060, -0.229), (-0.040, -0.231), (-0.020, -0.228), (0.000, -0.232),
    (0.020, -0.230), (0.040, -0.229), (0.060, -0.232), (0.080, -0.230), (0.100, -0.228), (0.120, -0.231),
    (0.140, -0.229), (0.160, -0.232), (0.180, -0.230), (0.200, -0.229), (0.220, -0.231),
    (-0.100, -0.236), (-0.080, -0.238), (-0.060, -0.235), (-0.040, -0.237), (-0.020, -0.234), (0.000, -0.238),
    (0.020, -0.236), (0.040, -0.235), (0.060, -0.238), (0.080, -0.236), (0.100, -0.234), (0.120, -0.237),
    (0.140, -0.235), (0.160, -0.238), (0.180, -0.236), (0.200, -0.235), (0.220, -0.238), (0.240, -0.236),
    (-0.090, -0.242), (-0.070, -0.244), (-0.050, -0.241), (-0.030, -0.243), (-0.010, -0.240), (0.010, -0.244),
    (0.030, -0.242), (0.050, -0.241), (0.070, -0.244), (0.090, -0.242), (0.110, -0.240), (0.130, -0.243),
    (0.150, -0.241), (0.170, -0.244), (0.190, -0.242), (0.210, -0.241), (0.230, -0.244), (0.250, -0.242),
    (-0.090, -0.248), (-0.070, -0.250), (-0.050, -0.247), (-0.030, -0.249), (-0.010, -0.246), (0.010, -0.250),
    (0.030, -0.248), (0.050, -0.247), (0.070, -0.250), (0.090, -0.248), (0.110, -0.246), (0.130, -0.249),
    (0.150, -0.247), (0.170, -0.250), (0.190, -0.248), (0.210, -0.247), (0.230, -0.250), (0.250, -0.248),
    (0.270, -0.249),
    (-0.100, -0.254), (-0.080, -0.256), (-0.060, -0.253), (-0.040, -0.255), (-0.020, -0.252), (0.000, -0.256),
    (0.020, -0.254), (0.040, -0.253), (0.060, -0.256), (0.080, -0.254), (0.100, -0.252), (0.120, -0.255),
    (0.140, -0.253), (0.160, -0.256), (0.180, -0.254), (0.200, -0.253), (0.220, -0.256), (0.240, -0.254),
    (0.260, -0.252), (0.280, -0.255),
    (-0.100, -0.260), (-0.080, -0.262), (-0.060, -0.259), (-0.040, -0.261), (-0.020, -0.258), (0.000, -0.262),
    (0.020, -0.260), (0.040, -0.259), (0.060, -0.262), (0.080, -0.260), (0.100, -0.258), (0.120, -0.261),
    (0.140, -0.259), (0.160, -0.262), (0.180, -0.260), (0.200, -0.259), (0.220, -0.262), (0.240, -0.260),
    (0.260, -0.258), (0.280, -0.261), (0.300, -0.262),
    (-0.090, -0.266), (-0.070, -0.268), (-0.050, -0.265), (-0.030, -0.267), (-0.010, -0.264), (0.010, -0.268),
    (0.030, -0.266), (0.050, -0.265), (0.070, -0.268), (0.090, -0.266), (0.110, -0.264), (0.130, -0.267),
    (0.150, -0.265), (0.170, -0.268), (0.190, -0.266), (0.210, -0.265), (0.230, -0.268), (0.250, -0.266),
    (0.270, -0.264), (0.290, -0.267), (0.305, -0.266),
    (-0.090, -0.272), (-0.070, -0.274), (-0.050, -0.271), (-0.030, -0.273), (-0.010, -0.270), (0.010, -0.274),
    (0.030, -0.272), (0.050, -0.271), (0.070, -0.274), (0.090, -0.272), (0.110, -0.270), (0.130, -0.273),
    (0.150, -0.271), (0.170, -0.274), (0.190, -0.272), (0.210, -0.271), (0.230, -0.274), (0.250, -0.272),
    (0.270, -0.270), (0.290, -0.273), (0.310, -0.272),
    (-0.100, -0.278), (-0.080, -0.280), (-0.060, -0.277), (-0.040, -0.279), (-0.020, -0.276), (0.000, -0.280),
    (0.020, -0.278), (0.040, -0.277), (0.060, -0.280), (0.080, -0.278), (0.100, -0.276), (0.120, -0.279),
    (0.140, -0.277), (0.160, -0.280), (0.180, -0.278), (0.200, -0.277), (0.220, -0.280), (0.240, -0.278),
    (0.260, -0.276), (0.280, -0.279), (0.300, -0.277), (0.320, -0.279),
    (-0.100, -0.284), (-0.080, -0.286), (-0.060, -0.283), (-0.040, -0.285), (-0.020, -0.282), (0.000, -0.286),
    (0.020, -0.284), (0.040, -0.283), (0.060, -0.286), (0.080, -0.284), (0.100, -0.282), (0.120, -0.285),
    (0.140, -0.283), (0.160, -0.286), (0.180, -0.284), (0.200, -0.283), (0.220, -0.286), (0.240, -0.284),
    (0.260, -0.282), (0.280, -0.285), (0.300, -0.283), (0.320, -0.286), (0.335, -0.284),
    (-0.090, -0.290), (-0.070, -0.292), (-0.050, -0.289), (-0.030, -0.291), (-0.010, -0.288), (0.010, -0.292),
    (0.030, -0.290), (0.050, -0.289), (0.070, -0.292), (0.090, -0.290), (0.110, -0.288), (0.130, -0.291),
    (0.150, -0.289), (0.170, -0.292), (0.190, -0.290), (0.210, -0.289), (0.230, -0.292), (0.250, -0.290),
    (0.270, -0.288), (0.290, -0.291), (0.310, -0.289), (0.330, -0.292), (0.340, -0.290),
    (-0.090, -0.296), (-0.070, -0.298), (-0.050, -0.295), (-0.030, -0.297), (-0.010, -0.294), (0.010, -0.298),
    (0.030, -0.296), (0.050, -0.295), (0.070, -0.298), (0.090, -0.296), (0.110, -0.294), (0.130, -0.297),
    (0.150, -0.295), (0.170, -0.298), (0.190, -0.296), (0.210, -0.295), (0.230, -0.298), (0.250, -0.296),
    (0.270, -0.294), (0.290, -0.297), (0.310, -0.295), (0.330, -0.298),
    (-0.085, -0.302), (-0.050, -0.303), (0.050, -0.301), (0.070, -0.303), (0.090, -0.300), (0.110, -0.304),
    (0.130, -0.302), (0.150, -0.301), (0.170, -0.304), (0.190, -0.302), (0.210, -0.300), (0.230, -0.303),
    (0.250, -0.301), (0.270, -0.304), (0.290, -0.302), (0.310, -0.301), (0.330, -0.304), (0.345, -0.302),
    (-0.065, -0.308), (-0.030, -0.310), (0.060, -0.307), (0.080, -0.309), (0.100, -0.306), (0.120, -0.310),
    (0.140, -0.308), (0.160, -0.307), (0.180, -0.310), (0.200, -0.308), (0.220, -0.306), (0.240, -0.309),
    (0.260, -0.307), (0.280, -0.310), (0.300, -0.308), (0.320, -0.307), (0.340, -0.309),
    (0.110, -0.314), (0.130, -0.316), (0.150, -0.313), (0.170, -0.315), (0.190, -0.312), (0.210, -0.316),
    (0.230, -0.314), (0.250, -0.313), (0.270, -0.316), (0.290, -0.314), (0.310, -0.312), (0.330, -0.314),
    (0.160, -0.320), (0.180, -0.318), (0.200, -0.321), (0.220, -0.319), (0.240, -0.320), (0.260, -0.318),
    (0.280, -0.321), (0.300, -0.319),
]
ideal_c_x = [0.018, 0.052, 0.089, 0.065, 0.073, 0.106, 0.115, 0.158, 0.187, 0.200, 0.259]
ideal_c_y = [-0.291, -0.258, -0.218, -0.230, -0.239, -0.246, -0.265, -0.272, -0.280, -0.317, -0.315]
target_c_x = [0.165]
target_c_y = [-0.289]
anen_c_x = [-0.151, -0.120, -0.0775, -0.0715, -0.0735, 0.063, 0.083, 0.117, 0.177, 0.235, 0.279]
anen_c_y = [-0.243, -0.247, -0.2505, -0.2525, -0.2555, -0.273, -0.286, -0.286, -0.302, -0.321, -0.325]
deep_c_x = [0.122, 0.132, 0.138, 0.142, 0.148, 0.156, 0.165, 0.180, 0.184, 0.190, 0.194]
deep_c_y = [-0.281, -0.278, -0.282, -0.287, -0.286, -0.291, -0.290, -0.290, -0.293, -0.295, -0.299]

GRAY = '#d3d3d3'
GREEN = '#006400'
RED = '#ff0000'
ORANGE = '#d98f53'
NAVY = '#160a50'
FONT = 'DejaVu Sans'

fig = go.Figure()


def add_panel(search, ideal_x, ideal_y, tx, ty, ax_, ay_, dx, dy, xa, ya, leg):
    sx = [p[0] for p in search]
    sy = [p[1] for p in search]
    common = dict(mode='markers', xaxis=xa, yaxis=ya, legend=leg)
    fig.add_trace(go.Scatter(x=sx, y=sy, name='Search forecasts', legendgroup=leg + '1',
                             marker=dict(color=GRAY, size=48, line=dict(width=0)), **common))
    fig.add_trace(go.Scatter(x=ideal_x, y=ideal_y, name='Ideal forecasts', legendgroup=leg + '2',
                             marker=dict(color=GREEN, size=48, line=dict(width=0)), **common))
    fig.add_trace(go.Scatter(x=tx, y=ty, name='Target forecast', legendgroup=leg + '3',
                             marker=dict(color=RED, size=48, line=dict(width=0)), **common))
    fig.add_trace(go.Scatter(x=ax_, y=ay_, name='AnEn_Optimal', legendgroup=leg + '4',
                             marker=dict(symbol='x-thin', size=40, color=ORANGE,
                                         line=dict(color=ORANGE, width=10)), **common))
    fig.add_trace(go.Scatter(x=dx, y=dy, name='DeepAnEn', legendgroup=leg + '5',
                             marker=dict(symbol='cross-thin', size=30, color=NAVY,
                                         line=dict(color=NAVY, width=10)), **common))


add_panel(search_b, ideal_b_x, ideal_b_y, target_b_x, target_b_y,
          anen_b_x, anen_b_y, deep_b_x, deep_b_y, 'x', 'y', 'legend')
add_panel(search_c, ideal_c_x, ideal_c_y, target_c_x, target_c_y,
          anen_c_x, anen_c_y, deep_c_x, deep_c_y, 'x2', 'y2', 'legend2')

axis_style = dict(showline=True, linecolor='black', linewidth=5.5, mirror=True,
                  ticks='outside', ticklen=24, tickwidth=5.5, tickcolor='black',
                  showgrid=False, zeroline=False, automargin=False,
                  tickfont=dict(family=FONT, size=69, color='black'))
title_font = dict(family=FONT, size=69, color='black')

legend_style = dict(xanchor='left', yanchor='top', bgcolor='rgba(255,255,255,0.8)',
                    bordercolor='#cccccc', borderwidth=5.5, itemwidth=200,
                    tracegroupgap=8, groupclick='toggleitem',
                    font=dict(family=FONT, size=69, color='black'))

fig.update_layout(
    width=3000, height=3000,
    margin=dict(l=0, r=0, t=0, b=0),
    paper_bgcolor='white', plot_bgcolor='white',
    font=dict(family=FONT, size=69, color='black'),
    xaxis=dict(axis_style, domain=[0.1447, 0.9747], range=[-39.3, 1093.7], anchor='y',
               tickvals=[0, 200, 400, 600, 800, 1000],
               title=dict(text='Solar irradiance (W/m^2)', font=title_font, standoff=30)),
    yaxis=dict(axis_style, domain=[0.588, 0.9747], range=[20.13, 103.76], anchor='x',
               tickvals=[40, 60, 80, 100],
               title=dict(text='Relative humidity (%)', font=title_font, standoff=30)),
    xaxis2=dict(axis_style, domain=[0.1447, 0.9747], range=[-0.5786, 0.6793], anchor='y2',
                tickvals=[-0.4, -0.2, 0.0, 0.2, 0.4, 0.6],
                ticktext=['\u22120.4', '\u22120.2', '0.0', '0.2', '0.4', '0.6'],
                title=dict(text='Latent feature 1', font=title_font, standoff=30)),
    yaxis2=dict(axis_style, domain=[0.0967, 0.4833], range=[-0.3809, -0.0481], anchor='x2',
                tickvals=[-0.35, -0.30, -0.25, -0.20, -0.15, -0.10, -0.05],
                ticktext=['\u22120.35', '\u22120.30', '\u22120.25', '\u22120.20',
                          '\u22120.15', '\u22120.10', '\u22120.05'],
                title=dict(text='Latent feature 2', font=title_font, standoff=30)),
    legend=dict(legend_style, x=0.1557, y=0.9633),
    legend2=dict(legend_style, x=0.1557, y=0.472),
    annotations=[
        dict(text='(b)', xref='x domain', yref='y domain', x=0.008, y=0.01,
             xanchor='left', yanchor='bottom', showarrow=False,
             font=dict(family=FONT, size=82, color='black')),
        dict(text='(c)', xref='x2 domain', yref='y2 domain', x=0.008, y=0.01,
             xanchor='left', yanchor='bottom', showarrow=False,
             font=dict(family=FONT, size=82, color='black')),
    ],
)

fig.write_html("out.html", config={'displayModeBar': False},
               post_script="document.body.style.margin='0';")
